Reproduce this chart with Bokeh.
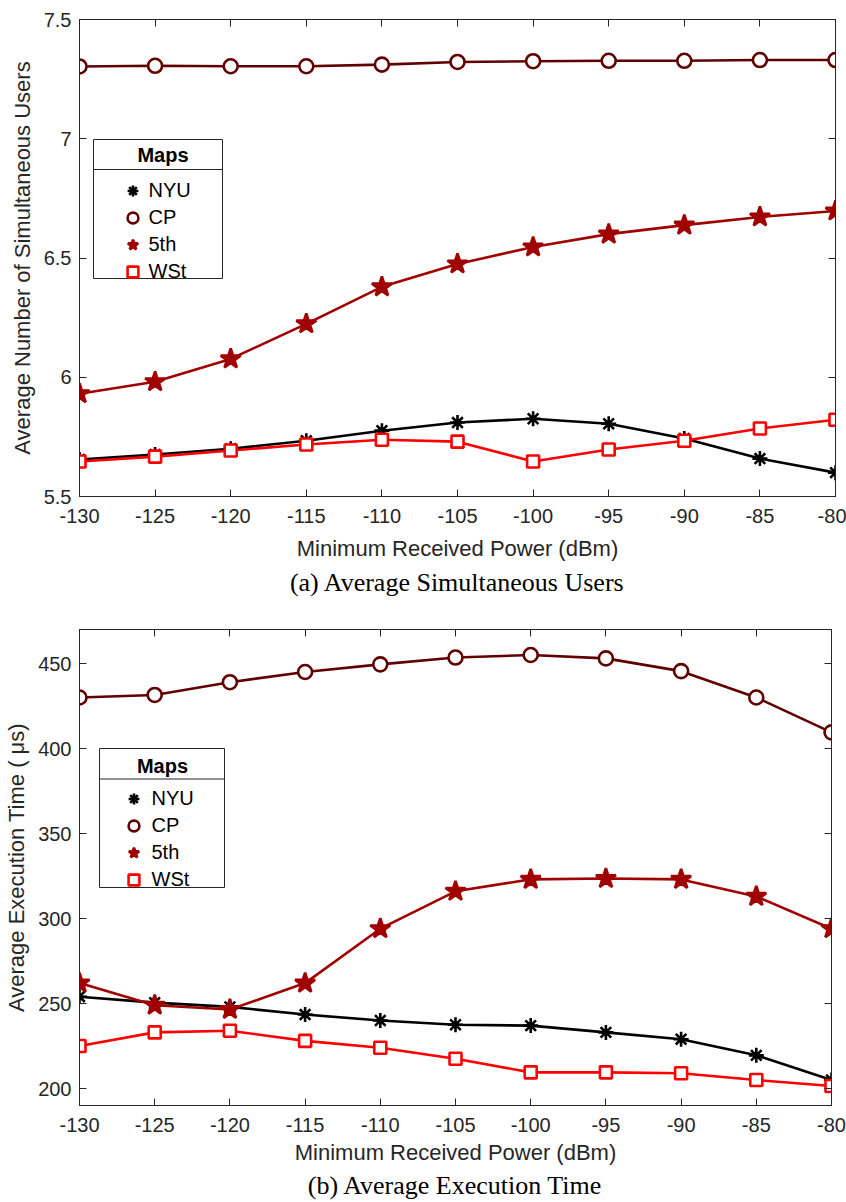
from bokeh.plotting import figure
from bokeh.models import (LinearAxis, Range1d, FixedTicker, Legend, LegendItem,
                          Label, BoxAnnotation, Title)
from bokeh.layouts import column
from bokeh.embed import file_html
from bokeh.resources import INLINE

# ---------------- data ----------------
power_dbm = [-130, -125, -120, -115, -110, -105, -100, -95, -90, -85, -80]
x_tick_labels = ["-130", "-125", "-120", "-115", "-110", "-105", "-100", "-95", "-90", "-85", "-80"]

users_nyu = [5.655, 5.676, 5.700, 5.734, 5.776, 5.810, 5.826, 5.805, 5.743, 5.659, 5.600]
users_cp = [7.303, 7.306, 7.304, 7.304, 7.311, 7.322, 7.325, 7.327, 7.327, 7.330, 7.330]
users_5th = [5.931, 5.981, 6.077, 6.224, 6.379, 6.475, 6.546, 6.600, 6.638, 6.672, 6.697]
users_wst = [5.647, 5.667, 5.693, 5.718, 5.738, 5.730, 5.647, 5.697, 5.734, 5.785, 5.822]

time_nyu = [254.0, 250.5, 248.0, 243.5, 240.0, 237.5, 237.0, 233.0, 229.0, 219.5, 205.0]
time_cp = [430.0, 431.5, 439.0, 445.0, 449.5, 453.5, 455.0, 453.0, 445.5, 430.0, 409.5]
time_5th = [262.0, 249.0, 246.5, 262.0, 294.0, 316.0, 323.0, 323.5, 323.0, 313.0, 294.0]
time_wst = [225.0, 233.0, 234.0, 228.0, 224.0, 217.5, 209.5, 209.5, 209.0, 205.0, 201.5]

series_names = ["NYU", "CP", "5th", "WSt"]

users_y_ticks = [5.5, 6, 6.5, 7, 7.5]
users_y_tick_labels = ["5.5", "6", "6.5", "7", "7.5"]
time_y_ticks = [200, 250, 300, 350, 400, 450]
time_y_tick_labels = ["200", "250", "300", "350", "400", "450"]

# ---------------- style ----------------
AX = "#262626"
SANS = "Liberation Sans"
SERIF = "Liberation Serif"
COLORS = {"NYU": "#000000", "CP": "#600000", "5th": "#a00000", "WSt": "#ff0000"}
MARKERS = {"NYU": "asterisk", "CP": "circle", "5th": "star", "WSt": "square"}
MSIZE = {"NYU": 15, "CP": 14, "5th": 21, "WSt": 12}
MFILL = {"NYU": None, "CP": "white", "5th": "#a00000", "WSt": "white"}


def style_axis(ax, labels=True):
    ax.axis_line_color = AX
    ax.axis_line_width = 1
    ax.major_tick_line_color = AX
    ax.major_tick_line_width = 1
    ax.major_tick_in = 7
    ax.major_tick_out = 0
    ax.minor_tick_line_color = None
    ax.major_label_text_font = SANS
    if labels:
        ax.major_label_text_font_size = "20px"
        ax.major_label_text_color = AX
    else:
        ax.major_label_text_font_size = "1px"
        ax.major_label_text_color = None
        ax.major_label_standoff = 0
        ax.axis_label = None


def make_panel(values, y_lo, y_hi, y_ticks, y_tick_labels, y_label, caption,
               border_left, border_right, border_top, frame_w, frame_h, border_bottom,
               legend_xy, legend_box, legend_sep, maps_xy, standoff_label,
               x_label_standoff, caption_standoff):
    p = figure(output_backend="svg", toolbar_location=None,
               frame_width=frame_w, frame_height=frame_h,
               min_border_left=border_left, min_border_right=border_right,
               min_border_top=border_top, min_border_bottom=border_bottom,
               x_range=Range1d(power_dbm[0], power_dbm[-1]),
               y_range=Range1d(y_lo, y_hi),
               background_fill_color="white", border_fill_color="white")
    p.grid.visible = False
    p.outline_line_color = AX
    p.outline_line_width = 1

    p.xaxis.ticker = FixedTicker(ticks=power_dbm)
    p.yaxis.ticker = FixedTicker(ticks=y_ticks)
    p.xaxis.major_label_overrides = {float(v): s for v, s in zip(power_dbm, x_tick_labels)}
    p.yaxis.major_label_overrides = {float(v): s for v, s in zip(y_ticks, y_tick_labels)}
    for ax in list(p.xaxis) + list(p.yaxis):
        style_axis(ax)
        ax.axis_label_text_font = SANS
        ax.axis_label_text_font_size = "22px"
        ax.axis_label_text_font_style = "normal"
        ax.axis_label_text_color = AX
    p.xaxis.axis_label = "Minimum Received Power (dBm)"
    p.yaxis.axis_label = y_label
    p.xaxis.major_label_standoff = 12
    p.yaxis.major_label_standoff = 8
    p.xaxis.axis_label_standoff = x_label_standoff
    p.yaxis.axis_label_standoff = 6

    top_ax = LinearAxis(ticker=FixedTicker(ticks=power_dbm))
    right_ax = LinearAxis(ticker=FixedTicker(ticks=y_ticks))
    style_axis(top_ax, labels=False)
    style_axis(right_ax, labels=False)
    p.add_layout(top_ax, "above")
    p.add_layout(right_ax, "right")

    marker_r = {}
    for name, vals in zip(series_names, values):
        p.line(power_dbm, vals, line_color=COLORS[name], line_width=2.6)
    for name, vals in zip(series_names, values):
        r = p.scatter(power_dbm, vals, marker=MARKERS[name], size=MSIZE[name],
                      line_color=COLORS[name], line_width=2.6,
                      fill_color=MFILL[name])
        marker_r[name] = r

    # legend frame
    bl, br, bt, bb = legend_box
    box = BoxAnnotation(left=bl, right=br, top=bt, bottom=bb,
                        left_units="canvas", right_units="canvas",
                        top_units="canvas", bottom_units="canvas",
                        fill_color="white", fill_alpha=1.0,
                        line_color=AX, line_width=1, line_alpha=1.0)
    sep = BoxAnnotation(left=bl, right=br, top=legend_sep, bottom=legend_sep + 1,
                        left_units="canvas", right_units="canvas",
                        top_units="canvas", bottom_units="canvas",
                        fill_color=AX, fill_alpha=1.0, line_color=None)
    p.add_layout(box)
    p.add_layout(sep)
    p.add_layout(Label(x=maps_xy[0], y=maps_xy[1], x_units="screen", y_units="screen",
                       text="Maps", text_font=SANS, text_font_size="20px",
                       text_font_style="bold", text_color="black",
                       text_align="center", text_baseline="middle"))
    legend = Legend(items=[LegendItem(label=n, renderers=[marker_r[n]]) for n in series_names],
                    location=legend_xy, border_line_color=None, background_fill_alpha=0.0,
                    padding=5, spacing=0, margin=0, glyph_width=27, glyph_height=27,
                    label_height=27, label_standoff=standoff_label,
                    label_text_font=SANS, label_text_font_size="20px",
                    label_text_color="black", label_text_baseline="middle")
    p.add_layout(legend, "center")

    p.add_layout(Title(text=caption, align="center", text_font=SERIF,
                       text_font_size="26px", text_font_style="normal",
                       text_color="black", standoff=caption_standoff), "below")
    return p


p1 = make_panel([users_nyu, users_cp, users_5th, users_wst], 5.5, 7.5,
                users_y_ticks, users_y_tick_labels,
                "Average Number of Simultaneous Users",
                "(a) Average Simultaneous Users",
                74, 16, 19, 756, 477, 104,
                (39.5, 211.5), (93, 222, 139, 278), 168.5, (83.5, 342), 3,
                10, 5)

p2 = make_panel([time_nyu, time_cp, time_5th, time_wst], 190, 470,
                time_y_ticks, time_y_tick_labels,
                "Average Execution Time ( \u03bcs)",
                "(b) Average Execution Time",
                79, 15, 29, 752, 476, 97,
                (40.5, 212.5), (99, 224, 148, 287), 178, (83, 340), 5,
                5, 3)

layout = column(p1, p2, spacing=0)
open("out.html", "w").write(file_html(layout, INLINE))
